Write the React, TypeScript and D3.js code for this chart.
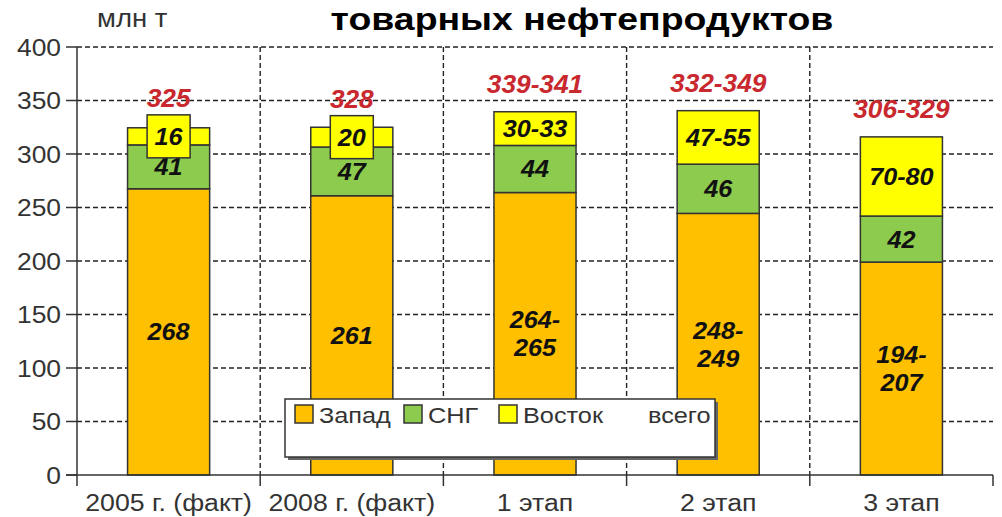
import React from "react";
import * as d3 from "d3";

const categories = ["2005 г. (факт)", "2008 г. (факт)", "1 этап", "2 этап", "3 этап"];
const zapad = [267.5, 261, 264, 244.5, 199];
const sng = [41, 45.5, 44, 46, 43];
const vostok = [16, 18.5, 31.5, 50, 74];
const zapadLabels = ["268", "261", "264-\n265", "248-\n249", "194-\n207"];
const sngLabels = ["41", "47", "44", "46", "42"];
const vostokLabels = ["16", "20", "30-33", "47-55", "70-80"];
const totalLabels = ["325", "328", "339-341", "332-349", "306-329"];
const yTicks = [0, 50, 100, 150, 200, 250, 300, 350, 400];
const seriesNames = ["Запад", "СНГ", "Восток"];
const colors = ["#FFC000", "#8DCB4E", "#FFFF00"];

const W = 1002, H = 517;
const left = 77, right = 993, top = 47, bottom = 475;
const FONT = "'Liberation Sans', Arial, sans-serif";

function SText(props: any) {
  const { x, y, sx = 1, children, ...rest } = props;
  return (
    <text x={0} y={0} transform={`translate(${x},${y}) scale(${sx},1)`} {...rest}>{children}</text>
  );
}

export default function App() {
  const x = d3.scaleBand<string>().domain(categories).range([left, right]).padding(0);
  const y = d3.scaleLinear().domain([0, 400]).range([bottom, top]);
  const bw = x.bandwidth() * 0.448;
  const series = [zapad, sng, vostok];
  const labels = [zapadLabels, sngLabels, vostokLabels];
  const stack = d3.stack<number>().keys(["0", "1", "2"]).value((i, k) => series[+k][i]);
  const stacked = stack(categories.map((_, i) => i));

  const boundaries = categories.slice(1).map((c) => x(c)!);

  return (
    <svg width={W} height={H} style={{ position: "absolute", left: 0, top: 0, background: "#fff" }} fontFamily={FONT}>
      <rect x={0} y={0} width={W} height={H} fill="#fff" />
      {/* title */}
      <SText x={582} y={30} sx={1.17} textAnchor="middle" fontSize={32} fontWeight="bold" fill="#000">товарных нефтепродуктов</SText>
      <SText x={97} y={27} sx={1.1} fontSize={25} fill="#333">млн т</SText>
      {/* horizontal grid */}
      {yTicks.filter((t) => t > 0).map((t) => (
        <line key={t} x1={left} x2={right} y1={y(t)} y2={y(t)} stroke="#222" strokeWidth={1.4} strokeDasharray="5,3" />
      ))}
      {boundaries.map((bx, i) => (
        <line key={i} x1={bx} x2={bx} y1={top} y2={bottom} stroke="#222" strokeWidth={1.4} strokeDasharray="5,3" />
      ))}
      {/* bars */}
      {stacked.map((layer, si) =>
        layer.map((d, i) => {
          const x0 = x(categories[i])! + (x.bandwidth() - bw) / 2;
          return (
            <rect key={`${si}-${i}`} x={x0} y={y(d[1])} width={bw} height={y(d[0]) - y(d[1])}
              fill={colors[si]} stroke="#333" strokeWidth={1.5} />
          );
        })
      )}
      {/* segment labels */}
      {stacked.map((layer, si) =>
        layer.map((d, i) => {
          const cx = x(categories[i])! + x.bandwidth() / 2;
          const cy = (y(d[0]) + y(d[1])) / 2;
          const h = y(d[0]) - y(d[1]);
          const lines = labels[si][i].split("\n");
          const lh = 28;
          return (
            <g key={`l${si}-${i}`}>
              {h < 25 && (
                <rect x={cx - 21.5} y={cy - 21.5} width={43} height={43} fill={colors[si]} stroke="#333" strokeWidth={1.5} />
              )}
              {lines.map((ln, k) => (
                <SText key={k} x={cx} y={cy + (k - (lines.length - 1) / 2) * lh + 8.5} sx={1.05} textAnchor="middle"
                  fontSize={24} fontWeight="bold" fontStyle="italic" fill="#111">{ln}</SText>
              ))}
            </g>
          );
        })
      )}
      {/* totals */}
      {categories.map((c, i) => {
        const cx = x(c)! + x.bandwidth() / 2;
        const topVal = zapad[i] + sng[i] + vostok[i];
        const segH = y(zapad[i] + sng[i]) - y(topVal);
        const segCy = (y(zapad[i] + sng[i]) + y(topVal)) / 2;
        const ty = segH < 25 ? segCy - 21.5 - 8 : y(topVal) - 19;
        return (
          <SText key={c} x={cx} y={ty} sx={1.05} textAnchor="middle" fontSize={25} fontWeight="bold" fontStyle="italic" fill="#C8282E">
            {totalLabels[i]}
          </SText>
        );
      })}
      {/* axes */}
      <line x1={left} x2={left} y1={top} y2={bottom} stroke="#333" strokeWidth={1.5} />
      <line x1={left - 11} x2={right} y1={bottom} y2={bottom} stroke="#333" strokeWidth={1.5} />
      {yTicks.map((t) => (
        <g key={t}>
          <line x1={left - 11} x2={left} y1={y(t)} y2={y(t)} stroke="#333" strokeWidth={1.5} />
          <SText x={61} y={y(t) + 8.5} sx={1.1} textAnchor="end" fontSize={24} fill="#333">{t}</SText>
        </g>
      ))}
      {[left, ...boundaries, right].map((bx, i) => (
        <line key={i} x1={bx} x2={bx} y1={bottom} y2={bottom + 11} stroke="#333" strokeWidth={1.5} />
      ))}
      {categories.map((c) => (
        <SText key={c} x={x(c)! + x.bandwidth() / 2} y={511} sx={1.16} textAnchor="middle" fontSize={23} fill="#333">{c}</SText>
      ))}
      {/* legend */}
      <g>
        <rect x={288} y={402} width={430} height={58} fill="#666" />
        <rect x={285} y={399} width={430} height={58} fill="#fff" stroke="#333" strokeWidth={1.5} />
        {seriesNames.map((n, i) => {
          const lx = [295, 404, 499][i];
          return (
            <g key={n}>
              <rect x={lx} y={405} width={18} height={18} fill={colors[i]} stroke="#333" strokeWidth={1.5} />
              <SText x={lx + 24} y={423} sx={1.15} fontSize={22} fill="#333">{n}</SText>
            </g>
          );
        })}
        <SText x={648} y={423} sx={1.15} fontSize={22} fill="#333">всего</SText>
      </g>
    </svg>
  );
}
